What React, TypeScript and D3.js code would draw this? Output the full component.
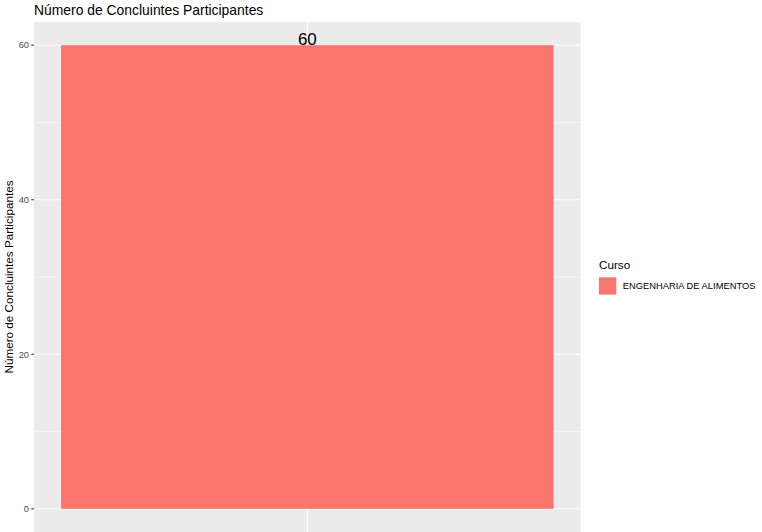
import React from "react";
import * as d3 from "d3";

const categories = ["ENGENHARIA DE ALIMENTOS"];
const values = [60];
const yTicks = [0, 20, 40, 60];
const yMinor = [10, 30, 50];
const title = "Número de Concluintes Participantes";
const yTitle = "Número de Concluintes Participantes";
const legendTitle = "Curso";
const barColor = "#F8766D";

const W = 762;
const H = 532;
const panel = { left: 34, right: 580.7, top: 22, bottom: 532 };
const font = "'Liberation Sans', Arial, Helvetica, sans-serif";

export default function App() {
  const y = d3.scaleLinear().domain([-3, 63]).range([panel.bottom, panel.top]);
  const x = d3
    .scaleBand<string>()
    .domain(categories)
    .range([panel.left, panel.right])
    .paddingInner(0)
    .paddingOuter(0.055);
  const xCenter = (panel.left + panel.right) / 2;
  const midY = (panel.top + panel.bottom) / 2;

  return (
    <svg
      width={W}
      height={H}
      style={{ position: "absolute", left: 0, top: 0 }}
      fontFamily={font}
    >
      <rect x={0} y={0} width={W} height={H} fill="#FFFFFF" />
      <rect
        x={panel.left}
        y={panel.top}
        width={panel.right - panel.left}
        height={panel.bottom - panel.top}
        fill="#EBEBEB"
      />
      {yMinor.map((t) => (
        <line
          key={"m" + t}
          x1={panel.left}
          x2={panel.right}
          y1={y(t)}
          y2={y(t)}
          stroke="#FFFFFF"
          strokeWidth={0.53}
        />
      ))}
      {yTicks.map((t) => (
        <line
          key={"M" + t}
          x1={panel.left}
          x2={panel.right}
          y1={y(t)}
          y2={y(t)}
          stroke="#FFFFFF"
          strokeWidth={1.07}
        />
      ))}
      <line
        x1={xCenter}
        x2={xCenter}
        y1={panel.top}
        y2={panel.bottom}
        stroke="#FFFFFF"
        strokeWidth={1.07}
      />
      {categories.map((c, i) => (
        <g key={c}>
          <rect
            x={x(c)!}
            y={y(values[i])}
            width={x.bandwidth()}
            height={y(0) - y(values[i])}
            fill={barColor}
          />
          <text
            x={x(c)! + x.bandwidth() / 2}
            y={y(values[i]) - 0.3}
            textAnchor="middle"
            fontSize={17}
            fill="#000000"
          >
            {values[i]}
          </text>
        </g>
      ))}
      {yTicks.map((t) => (
        <g key={"t" + t}>
          <line
            x1={panel.left - 2.74}
            x2={panel.left}
            y1={y(t)}
            y2={y(t)}
            stroke="#333333"
            strokeWidth={1.07}
          />
          <text
            x={panel.left - 5}
            y={y(t)}
            dy="0.35em"
            textAnchor="end"
            fontSize={9.3}
            fill="#4D4D4D"
          >
            {t}
          </text>
        </g>
      ))}
      <text
        transform={`translate(${13},${midY}) rotate(-90)`}
        textAnchor="middle"
        fontSize={11.7}
        fill="#000000"
      >
        {yTitle}
      </text>
      <text x={panel.left} y={14.5} fontSize={13.9} fill="#000000">
        {title}
      </text>
      <text x={599} y={269} fontSize={11.7} fill="#000000">
        {legendTitle}
      </text>
      {categories.map((c, i) => (
        <g key={"lg" + c}>
          <rect x={599} y={277.3 + i * 17.3} width={17.3} height={17.3} fill={barColor} />
          <text x={622.7} y={289.3 + i * 17.3} fontSize={9.35} fill="#000000">
            {c}
          </text>
        </g>
      ))}
    </svg>
  );
}
